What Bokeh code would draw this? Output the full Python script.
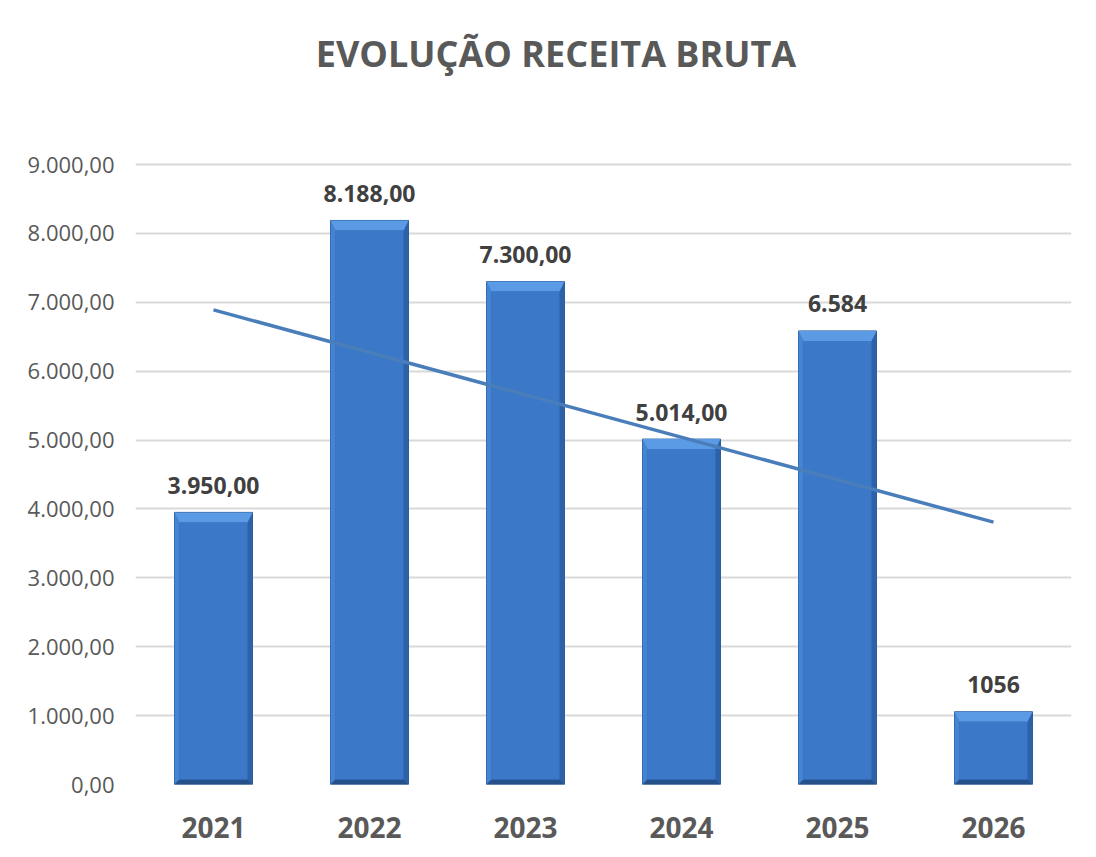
import numpy as np
from bokeh.plotting import figure
from bokeh.models import Div, Range1d, FixedTicker, ColumnDataSource
from bokeh.layouts import column
from bokeh.core.properties import value
from bokeh.embed import file_html
from bokeh.resources import INLINE

# ---- data ----
years = ["2021", "2022", "2023", "2024", "2025", "2026"]
receita = [3950, 8188, 7300, 5014, 6584, 1056]
data_labels = ["3.950,00", "8.188,00", "7.300,00", "5.014,00", "6.584", "1056"]
y_ticks = [0, 1000, 2000, 3000, 4000, 5000, 6000, 7000, 8000, 9000]
y_tick_labels = ["0,00", "1.000,00", "2.000,00", "3.000,00", "4.000,00",
                 "5.000,00", "6.000,00", "7.000,00", "8.000,00", "9.000,00"]
title_text = "EVOLUÇÃO RECEITA BRUTA"

# ---- layout constants ----
FIG_W, FIG_H = 1080, 731
BORDER_L, BORDER_R, BORDER_T, BORDER_B = 135, 9, 42, 67
FRAME_W = FIG_W - BORDER_L - BORDER_R
FRAME_H = FIG_H - BORDER_T - BORDER_B
Y_MAX = 9000
Y_END = Y_MAX * FRAME_H / (FRAME_H - 2)   # 2px headroom so the top gridline shows
FONT = "Open Sans"

x = np.arange(1, len(years) + 1, dtype=float)
v = np.array(receita, dtype=float)

px_x = FRAME_W / len(years)      # pixels per category unit
px_y = FRAME_H / Y_END           # pixels per value unit

half = 0.25
side = 5 / px_x
top_b = 10 / px_y
bot_b = 5 / px_y

p = figure(width=FIG_W, height=FIG_H, output_backend="svg", toolbar_location=None,
           x_range=Range1d(0.5, len(years) + 0.5), y_range=Range1d(0, Y_END),
           min_border_left=BORDER_L, min_border_right=BORDER_R,
           min_border_top=BORDER_T, min_border_bottom=BORDER_B)
p.outline_line_color = None
p.background_fill_color = "white"
p.border_fill_color = "white"

# grid
p.xgrid.grid_line_color = None
p.ygrid.ticker = FixedTicker(ticks=y_ticks)
p.ygrid.grid_line_color = "#d9d9d9"
p.ygrid.grid_line_width = 2

# bars: outer
L = x - half
R = x + half
p.quad(left=L, right=R, bottom=0, top=v, fill_color="#2f63aa",
       line_color="#2b5894", line_width=1)

def polys(pts):
    xs = [[pt[0][i] for pt in pts] for i in range(len(x))]
    ys = [[pt[1][i] for pt in pts] for i in range(len(x))]
    return xs, ys

zero = np.zeros_like(v)
# left bevel
xs, ys = polys([(L, zero), (L, v), (L + side, v - top_b), (L + side, zero + bot_b)])
p.patches(xs, ys, fill_color="#4584d2", line_color=None)
# right bevel
xs, ys = polys([(R, zero), (R, v), (R - side, v - top_b), (R - side, zero + bot_b)])
p.patches(xs, ys, fill_color="#2d62a8", line_color=None)
# bottom bevel
xs, ys = polys([(L, zero), (R, zero), (R - side, zero + bot_b), (L + side, zero + bot_b)])
p.patches(xs, ys, fill_color="#25508a", line_color=None)
# top bevel
xs, ys = polys([(L, v), (R, v), (R - side, v - top_b), (L + side, v - top_b)])
p.patches(xs, ys, fill_color="#5b9be6", line_color=None)
# face
p.quad(left=L + side, right=R - side, bottom=zero + bot_b, top=v - top_b,
       fill_color="#3b78c8", line_color=None)

# trend line (linear fit of the series)
coef = np.polyfit(x, v, 1)
trend = np.polyval(coef, x)
p.line(x=[x[0], x[-1]], y=[trend[0], trend[-1]], line_color="#4a7ebb", line_width=3.5)

# data labels
src = ColumnDataSource(dict(x=x, y=v, t=data_labels))
p.text(x="x", y="y", text="t", source=src, text_align="center",
       text_baseline="alphabetic", y_offset=-27,
       text_font=value(FONT), text_font_style="bold", text_font_size="23px",
       text_color="#404040")

# axes
xa = p.xaxis[0]
xa.ticker = FixedTicker(ticks=list(x))
overrides = {float(xi): yr for xi, yr in zip(x, years)}
overrides.update({int(xi): yr for xi, yr in zip(x, years)})
xa.major_label_overrides = overrides
xa.axis_line_color = None
xa.major_tick_line_color = None
xa.minor_tick_line_color = None
xa.major_tick_out = 0
xa.major_tick_in = 0
xa.major_label_standoff = 32
xa.major_label_text_font = FONT
xa.major_label_text_font_style = "bold"
xa.major_label_text_font_size = "28px"
xa.major_label_text_color = "#595959"

ya = p.yaxis[0]
ya.ticker = FixedTicker(ticks=y_ticks)
ya.major_label_overrides = {t: lab for t, lab in zip(y_ticks, y_tick_labels)}
ya.axis_line_color = None
ya.major_tick_line_color = None
ya.minor_tick_line_color = None
ya.major_tick_out = 0
ya.major_tick_in = 0
ya.major_label_standoff = 21
ya.major_label_text_font = FONT
ya.major_label_text_font_size = "22px"
ya.major_label_text_color = "#595959"

title = Div(text=('<div style="box-sizing:border-box;width:1080px;text-align:center;'
                  'font-family:\'Open Sans\';font-weight:bold;font-size:36px;color:#595959;'
                  'padding-top:24px;padding-left:22px;line-height:normal;">'
                  + title_text + '</div>'),
            width=FIG_W, height=110)

layout = column(title, p, spacing=0, styles={"background-color": "white"})

open("out.html", "w").write(file_html(layout, INLINE))
